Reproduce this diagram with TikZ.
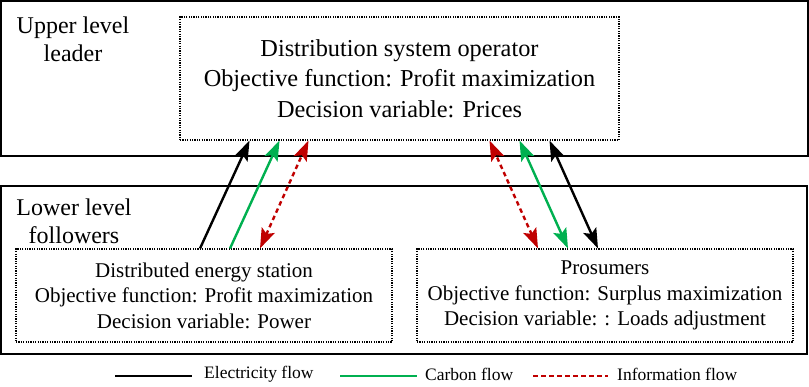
\documentclass[tikz,border=0pt]{standalone}
\usepackage{fontspec}
\setmainfont{Liberation Serif}
\usetikzlibrary{arrows.meta}
\definecolor{elecblack}{RGB}{0,0,0}
\definecolor{carbgreen}{RGB}{0,176,80}
\definecolor{infored}{RGB}{192,0,0}
\begin{document}
\begin{tikzpicture}[x=1pt, y=-1pt,
    level/.style={draw, line width=1.5pt, inner sep=0pt},
    agent/.style={draw, dash pattern=on 1.2pt off 1.2pt, line width=1.1pt, align=center, inner sep=0pt},
    flow/.style={line width=2.4pt, -{Stealth[length=20pt,width=14pt,inset=4pt]}},
    bothflow/.style={line width=2.4pt, {Stealth[length=20pt,width=14pt,inset=4pt]}-{Stealth[length=20pt,width=14pt,inset=4pt]}},
    infodash/.style={dash pattern=on 4.5pt off 3.5pt}]
    \useasboundingbox (0,0) rectangle (809,386);
    % Nodes
    \node[level, minimum width=807pt, minimum height=155pt] (upper) at (404.5,78.5) {};
    \node[level, minimum width=806pt, minimum height=168pt] (lower) at (404,270) {};
    \node[align=center, font=\fontsize{24}{28}\selectfont] (upperlabel) at (73,39) {Upper level\\leader};
    \node[align=center, font=\fontsize{24}{28}\selectfont] (lowerlabel) at (74,221) {Lower level\\followers};
    \node[agent, minimum width=439pt, minimum height=123pt, font=\fontsize{24.3}{30.5}\selectfont] (dso) at (399.5,78.5)
        {Distribution system operator\\Objective function: Profit maximization\\Decision variable: Prices};
    \node[agent, minimum width=376pt, minimum height=93pt, font=\fontsize{21}{25.5}\selectfont] (des) at (204,295.5)
        {Distributed energy station\\Objective function: Profit maximization\\Decision variable: Power};
    \node[agent, minimum width=376pt, minimum height=93pt, font=\fontsize{21}{25.5}\selectfont] (pros) at (605,295.5)
        {Prosumers\\Objective function: Surplus maximization\\Decision variable: : Loads adjustment};
    % Edges
    \draw[flow, elecblack] ([xshift=-4pt]des.north) -- ([xshift=-150pt]dso.south);
    \draw[flow, carbgreen] ([xshift=26pt]des.north) -- ([xshift=-120pt]dso.south);
    \draw[bothflow, infored, infodash] ([xshift=56pt]des.north) -- ([xshift=-91pt]dso.south);
    \draw[bothflow, infored, infodash] ([xshift=-67pt]pros.north) -- ([xshift=90pt]dso.south);
    \draw[bothflow, carbgreen] ([xshift=-37pt]pros.north) -- ([xshift=120pt]dso.south);
    \draw[bothflow, elecblack] ([xshift=-7pt]pros.north) -- ([xshift=150pt]dso.south);
    % Legend
    \coordinate (eleca) at (115,376);
    \coordinate (elecb) at (192,376);
    \coordinate (carba) at (340,376);
    \coordinate (carbb) at (417,376);
    \coordinate (infoa) at (533,376);
    \coordinate (infob) at (608,376);
    \draw[line width=2.2pt, elecblack] (eleca) -- (elecb);
    \draw[line width=2.2pt, carbgreen] (carba) -- (carbb);
    \draw[line width=2.2pt, infored, infodash] (infoa) -- (infob);
    \node[anchor=west, inner sep=0pt, font=\fontsize{17.5}{20}\selectfont] (eleclabel) at (204,374) {Electricity flow};
    \node[anchor=west, inner sep=0pt, font=\fontsize{17.5}{20}\selectfont] (carblabel) at (425,374) {Carbon flow};
    \node[anchor=west, inner sep=0pt, font=\fontsize{17.5}{20}\selectfont] (infolabel) at (617,374) {Information flow};
\end{tikzpicture}
\end{document}
